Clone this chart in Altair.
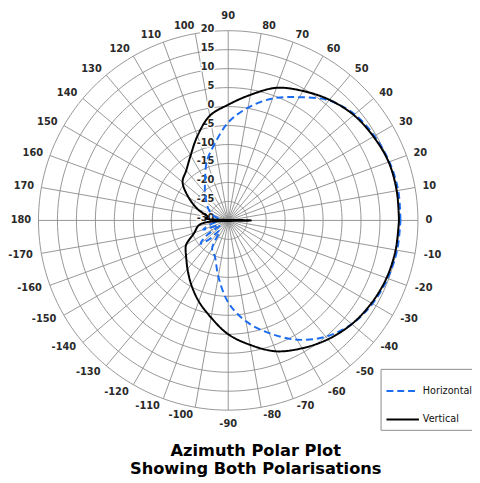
import altair as alt
import pandas as pd

# ---------------- data ----------------
ANGLES = [0, 10, 20, 30, 40, 50, 60, 70, 80, 90, 100, 110, 120, 130, 140, 150,
          160, 170, 175, 180, -175, -170, -160, -150, -145, -140, -135, -130,
          -120, -110, -100, -90, -80, -70, -60, -50, -40, -30, -20, -10]
H_DB = [15.4, 15.5, 15.2, 14.5, 13.5, 11.3, 7.5, 4.2, 0.2, -4.2, -9.5, -13.5,
        -17.8, -20.5, -22.5, -24.0, -25.5, -27.5, -28.0, -29.0, -28.0, -26.0,
        -23.0, -27.5, -23.0, -20.5, -23.0, -26.5, -21.5, -19.8, -15.0, -8.4,
        -3.0, 1.6, 6.3, 10.0, 12.5, 13.9, 14.7, 15.2]
V_DB = [15.0, 15.1, 15.0, 14.2, 13.2, 11.5, 9.4, 7.2, 3.6, 0.5, -2.0, -6.3,
        -10.2, -12.8, -14.3, -18.0, -21.5, -24.5, -24.0, -36.0, -24.0, -22.0,
        -20.5, -17.2, -16.3, -15.5, -14.5, -13.3, -10.5, -7.3, -4.0, 0.0,
        3.3, 6.7, 8.9, 10.9, 12.5, 13.6, 14.4, 14.8]
SERIES = ["Horizontal", "Vertical"]
COLORS = ["#1c6cf0", "#000000"]
DASHES = [[7, 4], [1, 0]]

MIN_DB = -30
MAX_DB = 20
RING_DB = [-25, -20, -15, -10, -5, 0, 5, 10, 15, 20]
RADIAL_TICKS = [20, 15, 10, 5, 0, -5, -10, -15, -20, -25, -30]
SPOKE_ANGLES = list(range(0, 360, 10))
ANGLE_LABELS = [0, 10, 20, 30, 40, 50, 60, 70, 80, 90, 100, 110, 120, 130, 140,
                150, 160, 170, 180, -170, -160, -150, -140, -130, -120, -110,
                -100, -90, -80, -70, -60, -50, -40, -30, -20, -10]
TITLE_LINES = ["Azimuth Polar Plot", "Showing Both Polarisations"]

# ---------------- tables ----------------
curve_rows = []
for s, vals in zip(SERIES, [H_DB, V_DB]):
    pts = list(zip(ANGLES, vals)) + [(ANGLES[0], vals[0])]
    for i, (a, v) in enumerate(pts):
        curve_rows.append({"series": s, "i": i, "ang": a, "db": v})
curves = pd.DataFrame(curve_rows)

ring_rows = []
for db in RING_DB:
    for a in range(0, 361, 2):
        ring_rows.append({"ring": db, "ang": a, "db": db})
rings = pd.DataFrame(ring_rows)

spokes = pd.DataFrame({"ang": SPOKE_ANGLES})
alabels = pd.DataFrame({"ang": ANGLE_LABELS})
rlabels = pd.DataFrame({"db": RADIAL_TICKS})

# ---------------- geometry ----------------
K = 3.86  # pixels per dB
W, H = 464, 430
CX, CY = 224, 212  # plot-area position of pole
XDOM = [-CX / K, (W - CX) / K]
YDOM = [-(H - CY) / K, CY / K]
xs = alt.Scale(domain=XDOM, nice=False, zero=False)
ys = alt.Scale(domain=YDOM, nice=False, zero=False)
RANGE = MAX_DB - MIN_DB

polar_x = f"(datum.db - ({MIN_DB})) * cos(datum.ang * PI / 180)"
polar_y = f"(datum.db - ({MIN_DB})) * sin(datum.ang * PI / 180)"

GRID = "#8a8a8a"

ring_layer = alt.Chart(rings).transform_calculate(
    x=polar_x, y=polar_y
).mark_line(color=GRID, strokeWidth=0.9).encode(
    x=alt.X("x:Q", scale=xs, axis=None),
    y=alt.Y("y:Q", scale=ys, axis=None),
    detail="ring:N",
    order="ang:Q",
)

spoke_layer = alt.Chart(spokes).transform_calculate(
    x0="0", y0="0",
    x1=f"{RANGE} * cos(datum.ang * PI / 180)",
    y1=f"{RANGE} * sin(datum.ang * PI / 180)",
).mark_rule(color=GRID, strokeWidth=0.9).encode(
    x=alt.X("x0:Q", scale=xs, axis=None),
    y=alt.Y("y0:Q", scale=ys, axis=None),
    x2="x1:Q",
    y2="y1:Q",
)

LAB_R = 201  # px from pole to label anchor
alabel_layer = alt.Chart(alabels).transform_calculate(
    lab="toString(datum.ang)",
    t="datum.ang * PI / 180",
).transform_calculate(
    c="cos(datum.t)", s="sin(datum.t)",
    w="length(datum.lab) * 6.6",
).transform_calculate(
    x=f"({LAB_R} * datum.c + (datum.c > 0.02 ? 1 : (datum.c < -0.02 ? -1 : 0)) * datum.w / 2) / {K}",
    y=f"({LAB_R} * datum.s + (abs(datum.c) <= 0.02 ? (datum.s > 0 ? 7 : -6) : 0)) / {K}",
).mark_text(font="DejaVu Sans", fontSize=10, fontWeight="bold", color="#2a2a2a",
            align="center", baseline="middle").encode(
    x=alt.X("x:Q", scale=xs, axis=None),
    y=alt.Y("y:Q", scale=ys, axis=None),
    text="lab:N",
)

rl_base = alt.Chart(rlabels).transform_calculate(
    lab="toString(datum.db)", x="0", y=f"datum.db - ({MIN_DB})"
)
rl_halo = rl_base.mark_text(font="DejaVu Sans", fontSize=10, fontWeight="bold",
                            color="white", stroke="white", strokeWidth=3,
                            align="right", baseline="middle", dx=-14, dy=-2).encode(
    x=alt.X("x:Q", scale=xs, axis=None),
    y=alt.Y("y:Q", scale=ys, axis=None),
    text="lab:N",
)
rl_text = rl_base.mark_text(font="DejaVu Sans", fontSize=10, fontWeight="bold",
                            color="#2a2a2a", align="right", baseline="middle",
                            dx=-14, dy=-2).encode(
    x=alt.X("x:Q", scale=xs, axis=None),
    y=alt.Y("y:Q", scale=ys, axis=None),
    text="lab:N",
)

leg = dict(title=None, orient="none", legendX=379, legendY=363,
           strokeColor="#8a8a8a", fillColor="white", padding=5,
           symbolType="stroke", symbolSize=1089, symbolStrokeWidth=2,
           labelFont="DejaVu Sans", labelFontSize=9.8, labelColor="#111",
           labelOffset=3, rowPadding=6, cornerRadius=0)

curve_layer = alt.Chart(curves).transform_calculate(
    x=polar_x, y=polar_y
).mark_line(strokeWidth=2, interpolate="catmull-rom").encode(
    x=alt.X("x:Q", scale=xs, axis=None),
    y=alt.Y("y:Q", scale=ys, axis=None),
    color=alt.Color("series:N", scale=alt.Scale(domain=SERIES, range=COLORS),
                    legend=alt.Legend(**leg)),
    strokeDash=alt.StrokeDash("series:N", scale=alt.Scale(domain=SERIES, range=DASHES),
                              legend=alt.Legend(**leg)),
    detail="series:N",
    order="i:Q",
)

chart = alt.layer(
    ring_layer, spoke_layer, rl_halo, rl_text, alabel_layer, curve_layer
).properties(
    width=W, height=H,
    autosize=alt.AutoSizeParams(type="none"),
    padding={"left": 0, "top": 0, "right": 8, "bottom": 45},
    background="white",
    title=alt.TitleParams(text=TITLE_LINES, orient="bottom", anchor="middle",
                          font="DejaVu Sans", fontSize=16.5, fontWeight="bold",
                          color="black", offset=9, dx=20, lineHeight=18),
).configure_view(stroke=None)

chart.save("out.html", embed_options={"renderer": "svg", "actions": False})
